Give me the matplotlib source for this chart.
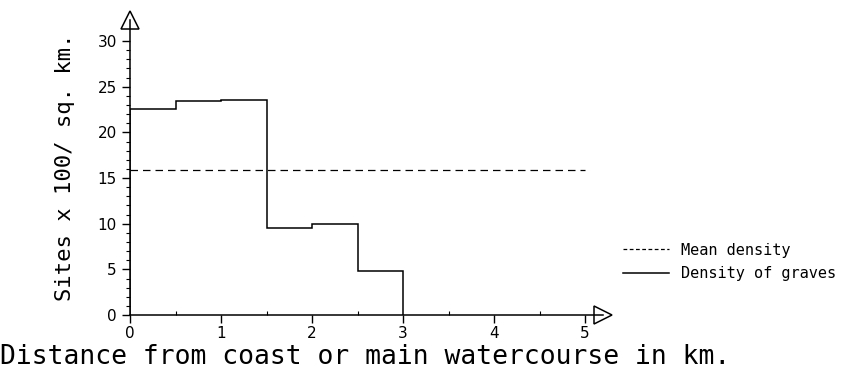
import matplotlib.pyplot as plt
import numpy as np
from matplotlib.lines import Line2D

# ----- ----- DATA ----- -----
edges = [0, 0.5, 1, 1.5, 2, 2.5, 3]
densities = [22.6, 23.4, 23.6, 9.5, 10.0, 4.8]
mean_density = 15.9
mean_range = [0, 5]
x_ticks = [0, 1, 2, 3, 4, 5]
y_ticks = [0, 5, 10, 15, 20, 25, 30]

mono = 'DejaVu Sans Mono'

# ----- ----- FIGURE ----- -----
fig = plt.figure(figsize=(8.64, 3.72), dpi=100)
ax = fig.add_axes([0.1505, 0.153, 0.5477, 0.793])

ax.stairs(densities, edges, baseline=0, color='black', lw=1.1)
ax.hlines(mean_density, mean_range[0], mean_range[1], colors='black',
          linestyles=(0, (6, 4)), lw=0.9)

# ----- ----- AXES ----- -----
ax.set_xlim(0, 5.2)
ax.set_ylim(0, 32.3)
for s in ['top', 'right']:
    ax.spines[s].set_visible(False)
for s in ['left', 'bottom']:
    ax.spines[s].set_linewidth(1.1)

ax.set_xticks(x_ticks)
ax.set_xticks(np.arange(0.5, 5, 1.0), minor=True)
ax.set_yticks(y_ticks)
ax.set_yticks(np.arange(0, 31, 1), minor=True)
ax.tick_params(axis='both', which='major', direction='out', length=6,
               width=1, labelsize=11)
ax.tick_params(axis='both', which='minor', direction='out', length=3, width=0.8)
ax.tick_params(axis='x', which='minor', direction='in', length=3)
ax.tick_params(axis='x', which='major', pad=2)

# hollow arrow heads at the axis ends
ax.plot(1, 0, marker='>', ms=13, mfc='white', mec='black', mew=1.1,
        transform=ax.transAxes, clip_on=False)
ax.plot(0, 1, marker='^', ms=13, mfc='white', mec='black', mew=1.1,
        transform=ax.transAxes, clip_on=False)

ax.set_ylabel('Sites x 100/ sq. km.', fontsize=16, family=mono, labelpad=16)
fig.text(0.0, 0.005, 'Distance from coast or main watercourse in km.',
         fontsize=19, family=mono, ha='left', va='bottom')

# ----- ----- LEGEND ----- -----
handles = [Line2D([], [], color='black', lw=0.9, ls=(0, (3, 2))),
           Line2D([], [], color='black', lw=1.1)]
fig.legend(handles, ['Mean density', 'Density of graves'],
           loc='center left', bbox_to_anchor=(0.705, 0.296), frameon=False,
           prop={'family': mono, 'size': 11}, handlelength=3.0,
           handletextpad=0.8, labelspacing=0.55)

fig.savefig('out.png', dpi=100)
